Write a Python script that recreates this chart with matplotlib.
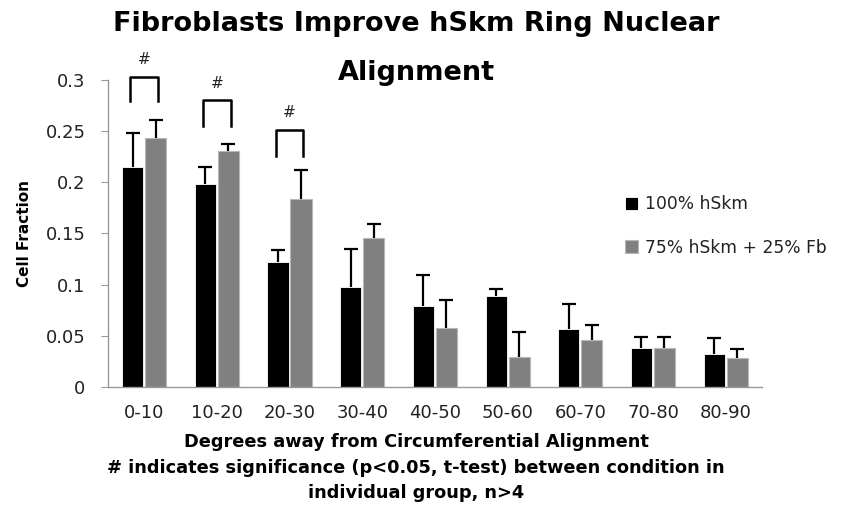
import matplotlib.pyplot as plt
import numpy as np

plt.rcParams['font.family'] = ['DejaVu Sans']

# Data
groups = ['0-10', '10-20', '20-30', '30-40', '40-50',
          '50-60', '60-70', '70-80', '80-90']
hskm = [0.215, 0.198, 0.122, 0.098, 0.079, 0.089, 0.057, 0.038, 0.032]
hskm_err = [0.033, 0.017, 0.012, 0.037, 0.030, 0.007, 0.024, 0.011, 0.016]
mix = [0.243, 0.231, 0.184, 0.146, 0.058, 0.029, 0.046, 0.038, 0.028]
mix_err = [0.018, 0.006, 0.028, 0.013, 0.027, 0.025, 0.015, 0.011, 0.009]
# significant groups and bracket heights (top, leg bottom, '#' position)
sig_groups = [0, 1, 2]
sig_top = [0.303, 0.280, 0.251]
sig_bottom = [0.279, 0.255, 0.226]
sig_mark = [0.320, 0.297, 0.268]

x = np.arange(len(groups))
width = 0.29
off = 0.158

fig = plt.figure(figsize=(8.42, 5.16), dpi=100)
ax = fig.add_axes([0.128, 0.25, 0.777, 0.595])

err_kw = dict(ecolor='black', elinewidth=1.6, capsize=5, capthick=1.6)
b1 = ax.bar(x - off, hskm, width, color='black', edgecolor='white', linewidth=0.6,
            yerr=[np.zeros(len(x)), hskm_err], error_kw=err_kw, label='100% hSkm')
b2 = ax.bar(x + off, mix, width, color='#808080', edgecolor='#b8b8b8', linewidth=0.8,
            yerr=[np.zeros(len(x)), mix_err], error_kw=err_kw,
            label='75% hSkm + 25% Fb')
# only the upper half of the error bars is shown
for bc in (b1, b2):
    bc.errorbar.lines[1][0].set_visible(False)

# significance brackets
for g, t, b, m in zip(sig_groups, sig_top, sig_bottom, sig_mark):
    ax.plot([g - 0.19, g - 0.19, g + 0.19, g + 0.19], [b, t, t, b],
            color='black', lw=1.8, clip_on=False)
    ax.text(g, m, '#', ha='center', va='center', fontsize=11, color='#222222')

ax.set_xlim(-0.5, 8.5)
ax.set_ylim(0, 0.3)
ax.set_yticks([0, 0.05, 0.1, 0.15, 0.2, 0.25, 0.3])
ax.set_yticklabels(['0', '0.05', '0.1', '0.15', '0.2', '0.25', '0.3'])
ax.set_xticks(x)
ax.set_xticklabels(groups)
ax.tick_params(axis='x', length=0, labelsize=13, pad=12, colors='#222222')
ax.tick_params(axis='y', direction='out', length=5, color='#999999',
               labelsize=13, labelcolor='#222222', pad=11)
for s in ['top', 'right']:
    ax.spines[s].set_visible(False)
for s in ['left', 'bottom']:
    ax.spines[s].set_color('#999999')
    ax.spines[s].set_linewidth(1.0)

ax.set_ylabel('Cell Fraction', fontsize=11, fontweight='bold', labelpad=10)

fig.text(0.494, 0.953, 'Fibroblasts Improve hSkm Ring Nuclear',
         ha='center', va='center', fontsize=19.5, fontweight='bold')
fig.text(0.494, 0.858, 'Alignment', ha='center', va='center',
         fontsize=19.5, fontweight='bold')

fig.text(0.494, 0.143, 'Degrees away from Circumferential Alignment',
         ha='center', va='center', fontsize=12.8, fontweight='bold')
fig.text(0.494, 0.093, '# indicates significance (p<0.05, t-test) between condition in',
         ha='center', va='center', fontsize=12.8, fontweight='bold')
fig.text(0.494, 0.045, 'individual group, n>4', ha='center', va='center',
         fontsize=12.8, fontweight='bold')

ax.legend(loc='upper left', bbox_to_anchor=(0.79, 0.625), frameon=False,
          fontsize=12.3, handlelength=0.8, handleheight=0.8, handletextpad=0.4,
          labelspacing=1.5, borderpad=0, borderaxespad=0, labelcolor='#222222')

fig.savefig('out.png', dpi=100)
